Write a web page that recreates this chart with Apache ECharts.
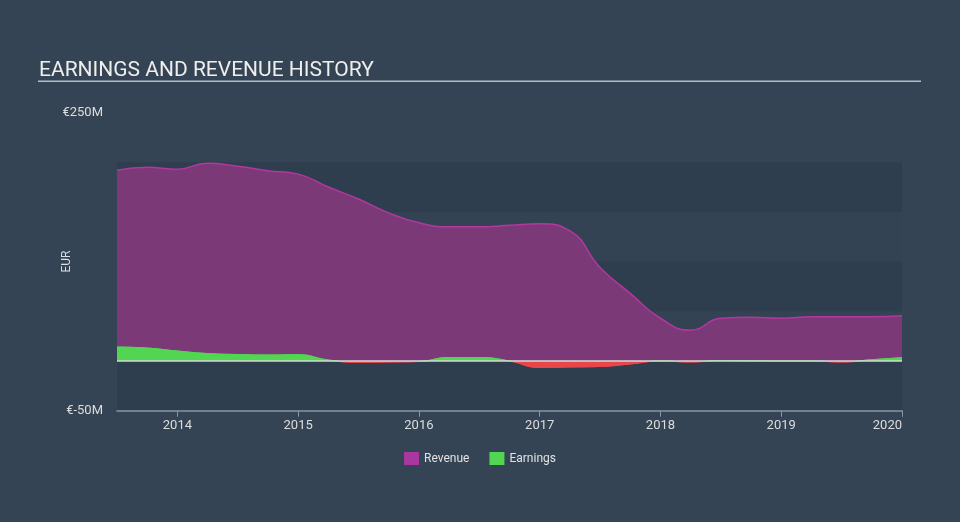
<!DOCTYPE html>
<html>
<head>
<meta charset="utf-8">
<script src="https://cdn.jsdelivr.net/npm/echarts@6/dist/echarts.min.js"></script>
<style>
html,body{margin:0;padding:0;background:#344454;}
#chart{width:960px;height:522px;}
</style>
</head>
<body>
<div id="chart"></div>
<script>
// Time (years) of each sample
const years = [2013.5, 2013.75, 2014.0, 2014.25, 2014.5, 2014.75, 2015.0, 2015.25, 2015.5, 2015.75,
  2016.0, 2016.25, 2016.5, 2016.75, 2017.0, 2017.25, 2017.5, 2017.75, 2018.0, 2018.25,
  2018.5, 2018.75, 2019.0, 2019.25, 2019.5, 2019.75, 2020.0];
// Revenue (EUR millions)
const revenue = [192, 195, 193, 199, 196, 191.5, 188, 175, 163, 149,
  139, 135, 135, 136.5, 138, 131, 94, 68, 43, 31,
  43, 44, 43, 44.5, 44.5, 44.5, 45.5];
// Earnings (EUR millions)
const earnings = [14, 13, 10, 7.5, 6.5, 6, 6.3, 1, -1.3, -1,
  -0.5, 3.5, 3.5, 0, -6.5, -6, -5.5, -3, 0, -1,
  0.5, 0.3, 0, 0, -1, 1.3, 3.3];
// Axis tick labels
const yearTicks = [2014, 2015, 2016, 2017, 2018, 2019, 2020];
const yLabels = {'-50': '€-50M', '250': '€250M'};

const GREEN = '#52d652', RED = '#e8474a';
const chart = echarts.init(document.getElementById('chart'));
const pair = arr => years.map((y, i) => [y, arr[i]]);

function signGradient(zeroY) {
  const off = Math.min(1, Math.max(0, zeroY / 522));
  return new echarts.graphic.LinearGradient(0, 0, 0, 522, [
    {offset: 0, color: GREEN}, {offset: off, color: GREEN},
    {offset: off, color: RED}, {offset: 1, color: RED}
  ], true);
}

chart.setOption({
  backgroundColor: '#344454',
  animation: false,
  title: {
    text: 'EARNINGS AND REVENUE HISTORY',
    left: 34, top: 55,
    textStyle: {color: '#eeeeee', fontSize: 21, fontWeight: 'normal', fontFamily: 'Roboto'}
  },
  graphic: [{
    type: 'rect', shape: {x: 38, y: 80.5, width: 883, height: 1.5},
    style: {fill: '#b8bcc2'}, silent: true
  }],
  legend: {
    data: [{name: 'Revenue', itemStyle: {color: '#a8389f'}}, {name: 'Earnings', itemStyle: {color: GREEN}}],
    bottom: 52, left: 'center',
    itemWidth: 15, itemHeight: 13, itemGap: 20,
    icon: 'rect',
    textStyle: {color: '#e2e2e2', fontSize: 12, fontWeight: 'normal', fontFamily: 'Roboto'}
  },
  grid: {left: 117, right: 58, top: 112.5, bottom: 111.3},
  xAxis: {
    type: 'value', min: 2013.5, max: 2020,
    splitLine: {show: false},
    axisLine: {onZero: false, lineStyle: {color: '#8796a6', width: 1.5}},
    axisTick: {show: true, length: 6, lineStyle: {color: '#8796a6'},
      customValues: yearTicks},
    axisLabel: {color: '#dddddd', fontSize: 13, fontFamily: 'Roboto', margin: 9,
      customValues: yearTicks, alignMaxLabel: 'right',
      formatter: v => String(Math.round(v))}
  },
  yAxis: {
    type: 'value', min: -50, max: 250, interval: 50,
    name: 'EUR', nameLocation: 'middle', nameGap: 44, nameRotate: 90,
    nameMoveOverlap: false,
    nameTextStyle: {color: '#dddddd', fontSize: 12, fontFamily: 'Roboto'},
    axisLine: {show: false}, axisTick: {show: false},
    splitLine: {show: false},
    splitArea: {show: true, areaStyle: {color: ['#2f3e4e', '#334354', '#2f3e4e', '#334354', '#2f3e4e', 'rgba(0,0,0,0)']}},
    axisLabel: {color: '#dddddd', fontSize: 13, fontFamily: 'Roboto', margin: 14,
      formatter: v => yLabels[String(v)] || ''}
  },
  series: [
    {
      name: 'Revenue', type: 'line', data: pair(revenue),
      smooth: 0.5, showSymbol: false, symbol: 'none',
      itemStyle: {color: '#a8389f'},
      lineStyle: {color: '#b3379f', width: 1.5},
      areaStyle: {color: '#7b3a77', opacity: 1},
      markLine: {
        silent: true, symbol: 'none', label: {show: false},
        lineStyle: {color: '#d8d8d8', width: 1.5, type: 'solid'},
        data: [{yAxis: 0}],
        z: 10
      },
      z: 2
    },
    {
      name: 'Earnings', type: 'line', data: pair(earnings),
      smooth: 0.5, showSymbol: false, symbol: 'none',
      itemStyle: {color: GREEN},
      lineStyle: {width: 1, color: GREEN},
      areaStyle: {opacity: 1, color: GREEN},
      z: 3
    }
  ]
});

const zeroY = chart.convertToPixel({yAxisIndex: 0}, 0);
const grad = signGradient(zeroY);
chart.setOption({
  series: [{}, {lineStyle: {color: grad}, areaStyle: {color: grad}}]
});
</script>
</body>
</html>
